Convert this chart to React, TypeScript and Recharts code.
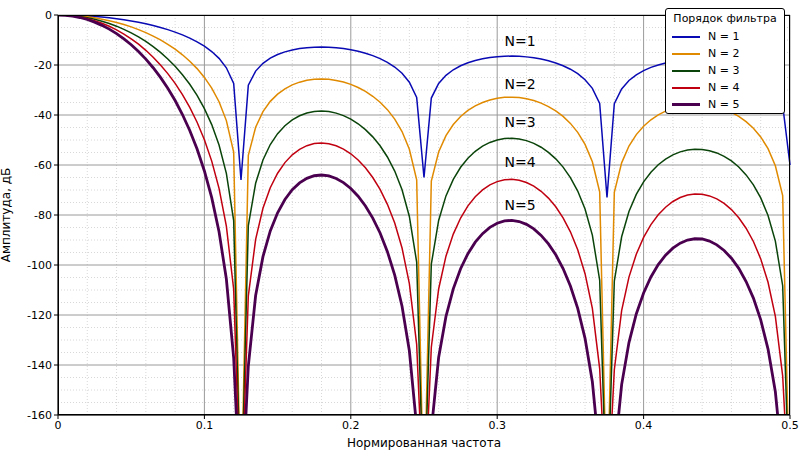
import React from "react";
import { LineChart, Line, XAxis, YAxis, CartesianGrid, ReferenceDot } from "recharts";

const STEP = 0.005;
const n1 = [0,-0.02,-0.09,-0.2,-0.36,-0.57,-0.83,-1.13,-1.49,-1.91,-2.38,-2.92,-3.53,-4.22,-4.99,-5.86,-6.84,-7.96,-9.24,-10.72,-12.48,-14.61,-17.34,-21.12,-27.42,-66,-28.08,-22.44,-19.33,-17.27,-15.82,-14.76,-13.98,-13.43,-13.07,-12.86,-12.8,-12.87,-13.08,-13.41,-13.88,-14.5,-15.28,-16.25,-17.44,-18.93,-20.81,-23.3,-26.86,-32.95,-65,-33.22,-27.4,-24.12,-21.91,-20.3,-19.09,-18.17,-17.49,-16.99,-16.66,-16.47,-16.43,-16.52,-16.75,-17.11,-17.63,-18.31,-19.18,-20.28,-21.68,-23.47,-25.87,-29.34,-35.36,-73,-35.47,-29.57,-26.21,-23.92,-22.24,-20.96,-19.97,-19.22,-18.65,-18.25,-18,-17.9,-17.92,-18.09,-18.39,-18.84,-19.46,-20.27,-21.32,-22.65,-24.39,-26.73,-30.14,-36.1,-60];
const n2 = [0,-0.04,-0.18,-0.4,-0.72,-1.14,-1.66,-2.26,-2.98,-3.82,-4.76,-5.84,-7.06,-8.44,-9.98,-11.72,-13.68,-15.92,-18.48,-21.44,-24.96,-29.22,-34.68,-42.24,-54.84,-200,-56.16,-44.88,-38.66,-34.54,-31.64,-29.52,-27.96,-26.86,-26.14,-25.72,-25.6,-25.74,-26.16,-26.82,-27.76,-29,-30.56,-32.5,-34.88,-37.86,-41.62,-46.6,-53.72,-65.9,-200,-66.44,-54.8,-48.24,-43.82,-40.6,-38.18,-36.34,-34.98,-33.98,-33.32,-32.94,-32.86,-33.04,-33.5,-34.22,-35.26,-36.62,-38.36,-40.56,-43.36,-46.94,-51.74,-58.68,-70.72,-200,-70.94,-59.14,-52.42,-47.84,-44.48,-41.92,-39.94,-38.44,-37.3,-36.5,-36,-35.8,-35.84,-36.18,-36.78,-37.68,-38.92,-40.54,-42.64,-45.3,-48.78,-53.46,-60.28,-72.2,-200];
const n3 = [0,-0.06,-0.27,-0.6,-1.08,-1.71,-2.49,-3.39,-4.47,-5.73,-7.14,-8.76,-10.59,-12.66,-14.97,-17.58,-20.52,-23.88,-27.72,-32.16,-37.44,-43.83,-52.02,-63.36,-82.26,-200,-84.24,-67.32,-57.99,-51.81,-47.46,-44.28,-41.94,-40.29,-39.21,-38.58,-38.4,-38.61,-39.24,-40.23,-41.64,-43.5,-45.84,-48.75,-52.32,-56.79,-62.43,-69.9,-80.58,-98.85,-200,-99.66,-82.2,-72.36,-65.73,-60.9,-57.27,-54.51,-52.47,-50.97,-49.98,-49.41,-49.29,-49.56,-50.25,-51.33,-52.89,-54.93,-57.54,-60.84,-65.04,-70.41,-77.61,-88.02,-106.08,-200,-106.41,-88.71,-78.63,-71.76,-66.72,-62.88,-59.91,-57.66,-55.95,-54.75,-54,-53.7,-53.76,-54.27,-55.17,-56.52,-58.38,-60.81,-63.96,-67.95,-73.17,-80.19,-90.42,-108.3,-200];
const n4 = [0,-0.08,-0.36,-0.8,-1.44,-2.28,-3.32,-4.52,-5.96,-7.64,-9.52,-11.68,-14.12,-16.88,-19.96,-23.44,-27.36,-31.84,-36.96,-42.88,-49.92,-58.44,-69.36,-84.48,-109.68,-200,-112.32,-89.76,-77.32,-69.08,-63.28,-59.04,-55.92,-53.72,-52.28,-51.44,-51.2,-51.48,-52.32,-53.64,-55.52,-58,-61.12,-65,-69.76,-75.72,-83.24,-93.2,-107.44,-131.8,-200,-132.88,-109.6,-96.48,-87.64,-81.2,-76.36,-72.68,-69.96,-67.96,-66.64,-65.88,-65.72,-66.08,-67,-68.44,-70.52,-73.24,-76.72,-81.12,-86.72,-93.88,-103.48,-117.36,-141.44,-200,-141.88,-118.28,-104.84,-95.68,-88.96,-83.84,-79.88,-76.88,-74.6,-73,-72,-71.6,-71.68,-72.36,-73.56,-75.36,-77.84,-81.08,-85.28,-90.6,-97.56,-106.92,-120.56,-144.4,-200];
const n5 = [0,-0.1,-0.45,-1,-1.8,-2.85,-4.15,-5.65,-7.45,-9.55,-11.9,-14.6,-17.65,-21.1,-24.95,-29.3,-34.2,-39.8,-46.2,-53.6,-62.4,-73.05,-86.7,-105.6,-137.1,-200,-140.4,-112.2,-96.65,-86.35,-79.1,-73.8,-69.9,-67.15,-65.35,-64.3,-64,-64.35,-65.4,-67.05,-69.4,-72.5,-76.4,-81.25,-87.2,-94.65,-104.05,-116.5,-134.3,-164.75,-200,-166.1,-137,-120.6,-109.55,-101.5,-95.45,-90.85,-87.45,-84.95,-83.3,-82.35,-82.15,-82.6,-83.75,-85.55,-88.15,-91.55,-95.9,-101.4,-108.4,-117.35,-129.35,-146.7,-176.8,-200,-177.35,-147.85,-131.05,-119.6,-111.2,-104.8,-99.85,-96.1,-93.25,-91.25,-90,-89.5,-89.6,-90.45,-91.95,-94.2,-97.3,-101.35,-106.6,-113.25,-121.95,-133.65,-150.7,-180.5,-200];

const seriesNames = ["N = 1", "N = 2", "N = 3", "N = 4", "N = 5"];
const seriesKeys = ["n1", "n2", "n3", "n4", "n5"];
const colors = ["#0a0ab4", "#e08a00", "#0a440a", "#c00010", "#4a004f"];
const widths = [1.5, 1.5, 1.5, 1.5, 2.8];
const curveLabels = ["N=1", "N=2", "N=3", "N=4", "N=5"];
const labelY = [-10.5, -27.5, -43, -59, -76];
const labelX = 0.3156;
const xTicks = [0, 0.1, 0.2, 0.3, 0.4, 0.5];
const yTicks = [0, -20, -40, -60, -80, -100, -120, -140, -160];
const xMinor = [0.02,0.04,0.06,0.08,0.12,0.14,0.16,0.18,0.22,0.24,0.26,0.28,0.32,0.34,0.36,0.38,0.42,0.44,0.46,0.48];
const yMinor = [-5,-10,-15,-25,-30,-35,-45,-50,-55,-65,-70,-75,-85,-90,-95,-105,-110,-115,-125,-130,-135,-145,-150,-155];

const arrays = [n1, n2, n3, n4, n5];
const data = n1.map((_, i) => {
  const row: any = { f: +(i * STEP).toFixed(3) };
  seriesKeys.forEach((k, j) => (row[k] = arrays[j][i]));
  return row;
});

const FONT = "DejaVu Sans";
const W = 800, H = 455;
const M = { top: 15, right: 10, bottom: 0, left: 0 };
const PL = 58, PR = 790, PT = 15, PB = 415;
const sx = (v: number) => PL + (v / 0.5) * (PR - PL);
const sy = (v: number) => PT + (-v / 160) * (PB - PT);

export default function App() {
  return (
    <div style={{ position: "absolute", left: 0, top: 0, width: W, height: H, background: "#fff", fontFamily: FONT }}>
      <LineChart width={W} height={H} data={data} margin={M}>
        <CartesianGrid stroke="#d8d8d8" strokeDasharray="1 2" verticalPoints={xMinor.map(sx)} horizontalPoints={yMinor.map(sy)} />
        <CartesianGrid stroke="#9a9a9a" strokeWidth={1} verticalPoints={xTicks.map(sx)} horizontalPoints={yTicks.map(sy)} />
        <XAxis dataKey="f" type="number" domain={[0, 0.5]} ticks={xTicks} tickFormatter={(v) => String(v)}
          height={40} stroke="#000" tick={{ fill: "#000", fontSize: 11, fontFamily: FONT }} tickSize={4}
          label={{ value: "Нормированная частота", position: "insideBottom", offset: 8, fill: "#000", fontSize: 12, fontFamily: FONT }} />
        <YAxis type="number" domain={[-160, 0]} ticks={yTicks} allowDataOverflow width={58} stroke="#000"
          tick={{ fill: "#000", fontSize: 11, fontFamily: FONT }} tickSize={4}
          label={{ value: "Амплитуда, дБ", angle: -90, position: "insideLeft", offset: 6, fill: "#000", fontSize: 12, fontFamily: FONT, style: { textAnchor: "middle" } }} />
        {seriesKeys.map((k, j) => (
          <Line key={k} dataKey={k} stroke={colors[j]} strokeWidth={widths[j]} dot={false} isAnimationActive={false} type="linear" />
        ))}
        {curveLabels.map((t, j) => (
          <ReferenceDot key={t} x={labelX} y={labelY[j]} r={0} stroke="none" fill="none"
            label={{ value: t, position: "center", fill: "#000", fontSize: 14, fontFamily: FONT }} />
        ))}
      </LineChart>
      <div style={{ position: "absolute", left: PL, top: PT, width: PR - PL, height: PB - PT, border: "1px solid #000", boxSizing: "border-box", pointerEvents: "none" }} />
      <div style={{ position: "absolute", left: 665, top: 8, width: 120, height: 106, background: "#fff", border: "1px solid #000", borderRadius: 3, fontSize: 11, boxSizing: "border-box", padding: "3px 6px" }}>
        <div style={{ textAlign: "center", marginBottom: 3 }}>Порядок фильтра</div>
        {seriesNames.map((n, j) => (
          <div key={n} style={{ display: "flex", alignItems: "center", height: 17 }}>
            <div style={{ width: 28, height: j === 4 ? 3 : 2, background: colors[j], marginRight: 8 }} />
            <span>{n}</span>
          </div>
        ))}
      </div>
    </div>
  );
}
